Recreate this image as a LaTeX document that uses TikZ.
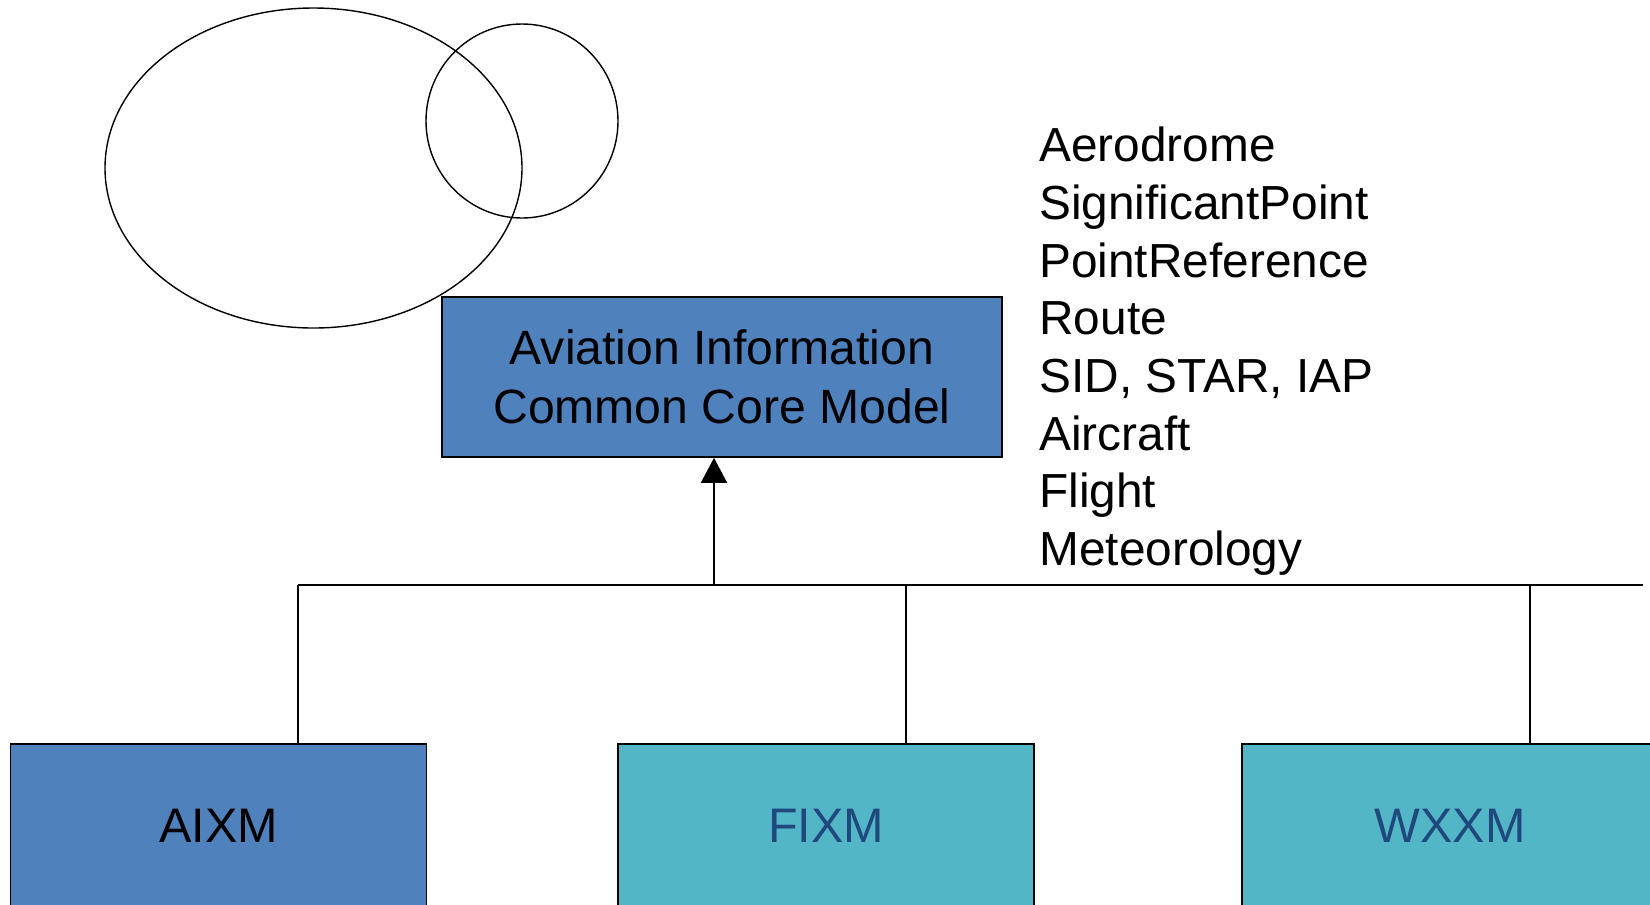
\documentclass[tikz,border=0pt]{standalone}
\usepackage{fontspec}
\setmainfont{Liberation Sans}
\usetikzlibrary{arrows.meta}
\definecolor{coreblue}{HTML}{4F81BD}
\definecolor{aqua}{HTML}{53B6C7}
\definecolor{navy}{HTML}{1F497D}
\begin{document}
\begin{tikzpicture}[x=0.02cm,y=-0.02cm,
    model/.style={draw,line width=1pt,minimum width=8.32cm,minimum height=3.28cm,
      inner sep=0pt,font=\fontsize{27.6}{32}\selectfont},
    link/.style={line width=1.1pt}]
  \useasboundingbox (0,0) rectangle (1650,904);
  \clip (0,0) rectangle (1650,904);
  % the two ellipses
  \draw[line width=.8pt] (313.5,168) ellipse (208.5 and 160);
  \draw[line width=.8pt] (522,121) ellipse (96 and 97);
  % core model and feature list
  \node[draw,line width=1pt,fill=coreblue,minimum width=11.2cm,minimum height=3.2cm,
    align=center,font=\fontsize{27.4}{33.6}\selectfont] (core) at (722,377)
    {Aviation Information\\Common Core Model};
  \node[anchor=north west,inner sep=0pt,align=left,font=\fontsize{27.2}{32.8}\selectfont]
    (features) at (1039,127) {Aerodrome\\SignificantPoint\\PointReference\\Route\\
    SID, STAR, IAP\\Aircraft\\Flight\\Meteorology};
  % exchange models
  \node[model,fill=coreblue] (aixm) at (218.5,826) {AIXM};
  \node[model,fill=aqua,text=navy] (fixm) at (826,826) {FIXM};
  \node[model,fill=aqua,text=navy] (wxxm) at (1450,826) {WXXM};
  % bus
  \coordinate (busL) at (298,585);
  \coordinate (busR) at (1643,585);
  \coordinate (busA) at (714,585);
  \coordinate (busF) at (906,585);
  \coordinate (busW) at (1530,585);
  \draw[link] (busL) -- (busR);
  \draw[link,-{Triangle[width=0.52cm,length=0.5cm]}] (busA) -- (busA |- core.south);
  \draw[link] (busL) -- (busL |- aixm.north);
  \draw[link] (busF) -- (busF |- fixm.north);
  \draw[link] (busW) -- (busW |- wxxm.north);
\end{tikzpicture}
\end{document}
